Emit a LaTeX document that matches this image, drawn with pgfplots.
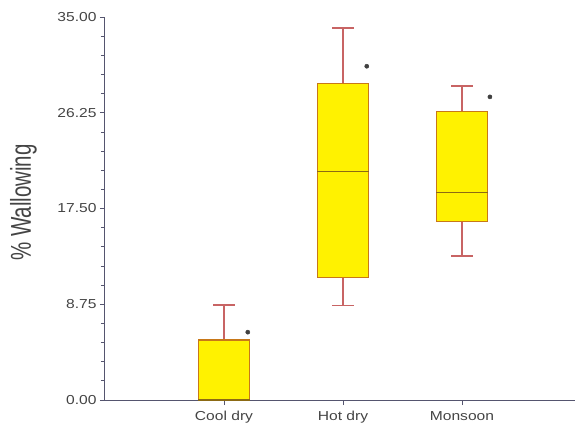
\documentclass[border=0pt]{standalone}
\usepackage{pgfplots}
\pgfplotsset{compat=1.18}
\usepgfplotslibrary{statistics}
\usepackage{graphicx}
\usepackage{fontspec}
\setmainfont{Liberation Sans}[FakeStretch=1.2]
\newfontfamily\labfont{Liberation Sans}

\definecolor{axisline}{HTML}{55556F}
\definecolor{boxedge}{HTML}{C87818}
\definecolor{whisk}{HTML}{C86464}
\definecolor{medline}{HTML}{8C6A14}
\definecolor{labtext}{HTML}{444444}

\begin{document}
\begin{tikzpicture}
\useasboundingbox (-105pt,-29pt) rectangle (470pt,400pt);
\begin{axis}[
  at={(0pt,0pt)}, anchor=origin,
  scale only axis,
  width=470pt, height=383pt,
  xmin=0, xmax=3.95,
  ymin=0, ymax=35,
  axis x line*=bottom,
  axis y line*=left,
  axis line style={axisline, line width=1pt},
  every tick/.style={axisline, line width=0.8pt},
  tick align=outside,
  xtick={1,2,3},
  xticklabels={Cool dry, Hot dry, Monsoon},
  ytick={0,8.75,17.5,26.25,35},
  minor y tick num=4,
  major tick length=5pt,
  minor tick length=4pt,
  yticklabel style={/pgf/number format/.cd, fixed, fixed zerofill, precision=2, assume math mode=true},
  ticklabel style={font=\fontsize{13}{13}\selectfont, text=labtext},
  xticklabel style={yshift=-3pt},
  ylabel={\scalebox{1}[1.4]{\labfont\fontsize{20.5}{20.5}\selectfont\% Wallowing}},
  ylabel style={text=labtext, at={(axis description cs:-0.1734,0.5157)}, anchor=center},
  boxplot/draw direction=y,
  boxplot/every box/.style={draw=boxedge, fill=yellow},
  boxplot/every whisker/.style={draw=whisk},
  boxplot/every median/.style={draw=medline},
  boxplot/box extend=0.43,
  boxplot/whisker extend=0.18,
  clip=false,
]
% Cool dry
\addplot+[boxplot prepared={draw position=1,
  lower whisker=0, lower quartile=0, median=0,
  upper quartile=5.48, upper whisker=8.68}, draw=boxedge, mark=none, line width=1.3pt] coordinates {};
% Hot dry
\addplot+[boxplot prepared={draw position=2,
  lower whisker=8.65, lower quartile=11.21, median=20.87,
  upper quartile=28.95, upper whisker=34.0}, draw=boxedge, mark=none, line width=1.3pt] coordinates {};
% Monsoon
\addplot+[boxplot prepared={draw position=3,
  lower whisker=13.16, lower quartile=16.30, median=18.98,
  upper quartile=26.35, upper whisker=28.7}, draw=boxedge, mark=none, line width=1.3pt] coordinates {};
% significance markers
\addplot[only marks, mark=*, mark size=2.1pt, draw=black!75, fill=black!75]
  coordinates {(1.20,6.2) (2.20,30.5) (3.235,27.7)};
\end{axis}
\end{tikzpicture}
\end{document}
